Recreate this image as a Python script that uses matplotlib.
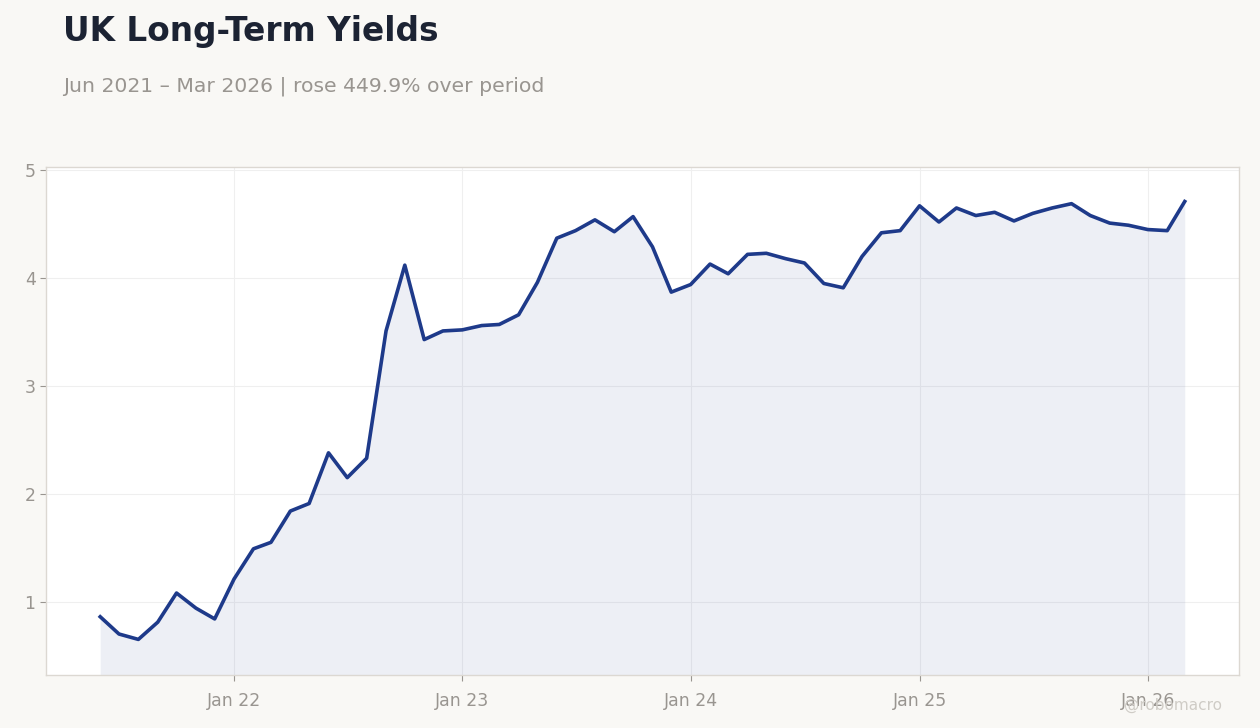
import matplotlib.pyplot as plt
import matplotlib.dates as mdates
import pandas as pd

# Monthly UK long-term government bond yields (%), Jun 2021 - Mar 2026
start_month = '2021-06-01'
yields = [
    0.86, 0.70, 0.65, 0.81, 1.08, 0.94, 0.84,
    1.21, 1.49, 1.55, 1.84, 1.91, 2.38, 2.15, 2.33, 3.51, 4.12, 3.43, 3.51,
    3.52, 3.56, 3.57, 3.66, 3.96, 4.37, 4.44, 4.54, 4.43, 4.57, 4.29, 3.87,
    3.94, 4.13, 4.04, 4.22, 4.23, 4.18, 4.14, 3.95, 3.91, 4.20, 4.42, 4.44,
    4.67, 4.52, 4.65, 4.58, 4.61, 4.53, 4.60, 4.65, 4.69, 4.58, 4.51, 4.49,
    4.45, 4.44, 4.71,
]
dates = pd.date_range(start_month, periods=len(yields), freq='MS')

title = 'UK Long-Term Yields'
subtitle = 'Jun 2021 \u2013 Mar 2026 | rose 449.9% over period'

line_color = '#1e3a8a'
bg = '#f9f8f5'

fig = plt.figure(figsize=(12.6, 7.28), dpi=100, facecolor=bg)
ax = fig.add_axes([0.0365, 0.0728, 0.9468, 0.6978])
ax.set_facecolor('white')

ax.plot(dates, yields, color=line_color, linewidth=2.6, zorder=3)
ax.fill_between(dates, yields, 0, color=line_color, alpha=0.08, linewidth=0, zorder=2)

ax.set_ylim(0.32, 5.03)
ax.margins(x=0.05)
ax.set_yticks([1, 2, 3, 4, 5])
ax.xaxis.set_major_locator(mdates.YearLocator())
ax.xaxis.set_major_formatter(mdates.DateFormatter('Jan %y'))

ax.grid(True, color='#efefef', linewidth=0.8, zorder=0)
for s in ax.spines.values():
    s.set_color('#dcd8d2')
    s.set_linewidth(1)
ax.tick_params(colors='#999590', labelsize=12.5, length=4, width=0.8)
ax.tick_params(axis='x', pad=8)

fig.text(0.05, 0.957, title, fontsize=23.6, fontweight='bold', color='#1c2333', va='center')
fig.text(0.05, 0.882, subtitle, fontsize=14.7, color='#999590', va='center')
fig.text(0.97, 0.031, '@robomacro', fontsize=11, color='#cfccc6', ha='right', va='center')

fig.savefig('out.png', dpi=100, facecolor=bg)
